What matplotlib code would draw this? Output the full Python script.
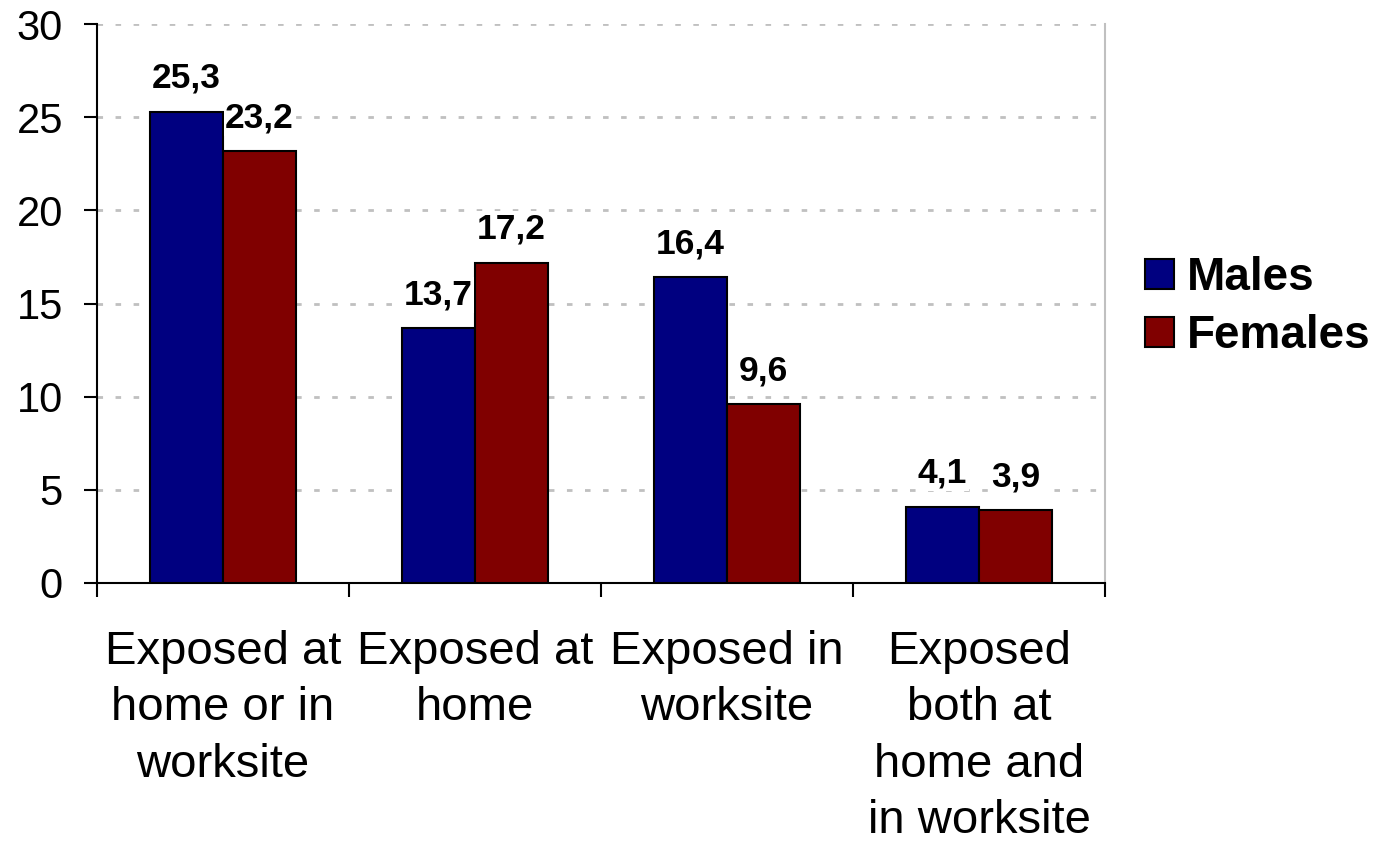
import matplotlib
matplotlib.use("Agg")
import matplotlib.pyplot as plt
import numpy as np

categories = ["Exposed at\nhome or in\nworksite", "Exposed at\nhome",
              "Exposed in\nworksite", "Exposed\nboth at\nhome and\nin worksite"]
males = [25.3, 13.7, 16.4, 4.1]
females = [23.2, 17.2, 9.6, 3.9]
series_names = ["Males", "Females"]

plt.rcParams['font.family'] = ['Liberation Sans', 'DejaVu Sans']

fig = plt.figure(figsize=(13.79, 8.41), dpi=100)
ax = fig.add_axes([97 / 1379, 1 - 583 / 841, (1105 - 97) / 1379, (583 - 24) / 841])

x = np.arange(len(categories))
w = 0.29
b1 = ax.bar(x - w / 2, males, w, color='#000080', edgecolor='black', linewidth=1.5,
            label=series_names[0], zorder=3)
b2 = ax.bar(x + w / 2, females, w, color='#800000', edgecolor='black', linewidth=1.5,
            label=series_names[1], zorder=3)

for bars, vals in [(b1, males), (b2, females)]:
    for rect, v in zip(bars, vals):
        ax.annotate(f'{v:.1f}'.replace('.', ','),
                    (rect.get_x() + rect.get_width() / 2, v),
                    xytext=(0, 17), textcoords='offset points',
                    ha='center', va='baseline', fontsize=25.5, fontweight='bold',
                    bbox=dict(facecolor='white', edgecolor='none', pad=1), zorder=4)

ax.set_xlim(-0.5, 3.5)
ax.set_ylim(0, 30)
ax.set_yticks(range(0, 31, 5))
ax.set_xticks(x)
ax.set_xticklabels(categories, fontsize=34, linespacing=1.36)
ax.set_xticks(np.arange(-0.5, 4, 1), minor=True)
ax.tick_params(axis='x', which='major', length=0, pad=34)
ax.tick_params(axis='x', which='minor', length=10, width=1.5, direction='out')
ax.tick_params(axis='y', length=9.5, width=1.5, direction='out', labelsize=30, pad=15)

ax.yaxis.grid(True, color='#c0c0c0', linestyle=(0, (2, 4.5)), linewidth=2, zorder=0)
ax.set_axisbelow(True)
ax.spines['top'].set_visible(False)
ax.spines['right'].set_color('#c0c0c0')
ax.spines['right'].set_linewidth(1.5)
ax.spines['left'].set_linewidth(1.5)
ax.spines['bottom'].set_linewidth(1.5)

fig.legend(handles=[b1, b2], loc='center left', bbox_to_anchor=(1145 / 1379, 1 - 307 / 841),
           frameon=False, borderpad=0, borderaxespad=0,
           prop={'size': 33, 'weight': 'bold'},
           handlelength=0.63, handleheight=0.63, handletextpad=0.28, labelspacing=0.32)

fig.savefig("out.png", dpi=100)
